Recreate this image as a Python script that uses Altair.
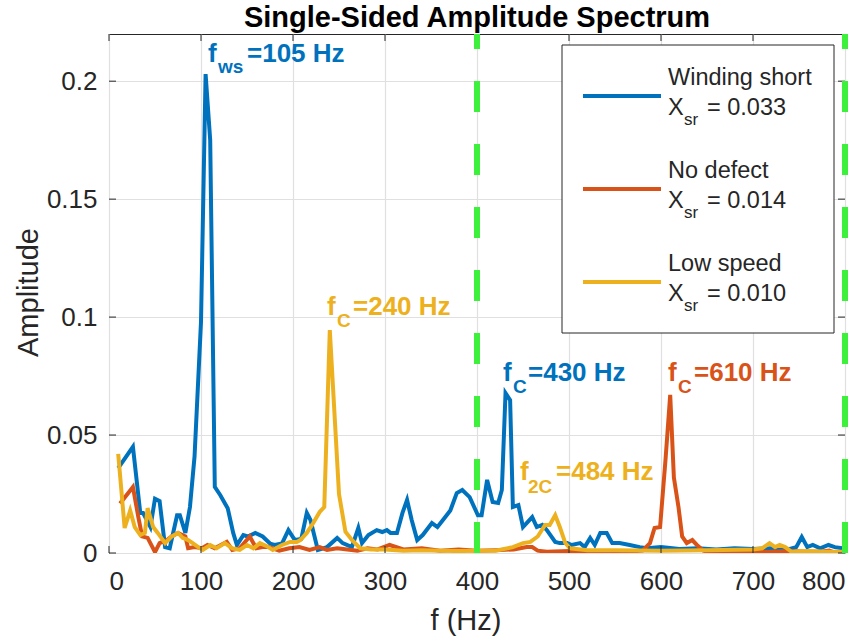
import altair as alt
import pandas as pd

# ---------------- data ----------------
ws_f = [10, 26, 34, 37, 45, 50, 55, 61, 66, 74, 77, 83, 88, 93, 100, 105, 110, 115, 121, 129,
        135, 139, 146, 151, 159, 167, 175, 180, 188, 195, 202, 209, 215, 219, 227, 237, 248, 254,
        264, 271, 275, 282, 291, 297, 302, 306, 313, 319, 324, 329, 335, 341, 351, 357, 363, 371,
        378, 384, 392, 401, 405, 411, 417, 423, 427, 431, 436, 439, 445, 450, 460, 465, 471, 476,
        485, 490, 498, 503, 512, 517, 523, 528, 534, 541, 547, 555, 566, 577, 585, 600, 620, 640,
        660, 680, 700, 720, 740, 747, 753, 759, 765, 773, 782, 789, 797]
ws_a = [0.036, 0.045, 0.017, 0.017, 0.011, 0.023, 0.022, 0.0025, 0.002, 0.016, 0.016, 0.0085,
        0.0195, 0.041, 0.098, 0.203, 0.175, 0.028, 0.0245, 0.019, 0.0085, 0.0034, 0.0076, 0.007,
        0.0085, 0.007, 0.004, 0.0034, 0.004, 0.0097, 0.0055, 0.006, 0.017, 0.014, 0.0013, 0.0025,
        0.0064, 0.0042, 0.0025, 0.0106, 0.0042, 0.0076, 0.0097, 0.0089, 0.0097, 0.0085, 0.0085,
        0.017, 0.0225, 0.014, 0.0055, 0.0076, 0.0127, 0.011, 0.014, 0.018, 0.0254, 0.0267, 0.0237,
        0.016, 0.016, 0.031, 0.0216, 0.0212, 0.0267, 0.0678, 0.0648, 0.0195, 0.0203, 0.011, 0.0152,
        0.011, 0.0119, 0.0097, 0.0047, 0.0042, 0.0042, 0.0034, 0.0042, 0.0025, 0.0064, 0.0034,
        0.0085, 0.0085, 0.0042, 0.0042, 0.0034, 0.0025, 0.002, 0.0025, 0.0017, 0.002, 0.0015,
        0.002, 0.0017, 0.002, 0.0017, 0.0025, 0.0068, 0.0025, 0.0034, 0.002, 0.0034, 0.0025, 0.002]

nd_f = [12, 26, 32, 36, 42, 50, 55, 63, 68, 75, 83, 86, 93, 101, 107, 115, 128, 134, 142, 153,
        160, 167, 174, 185, 196, 207, 218, 229, 237, 248, 259, 270, 281, 292, 305, 320, 340, 360,
        380, 400, 420, 440, 454, 460, 466, 476, 500, 530, 560, 580, 588, 593, 599, 605, 610, 614,
        619, 623, 628, 634, 639, 646, 653, 670, 700, 720, 740, 760, 773, 783, 788, 800]
nd_a = [0.021, 0.028, 0.015, 0.007, 0.0064, 0.0004, 0.0042, 0.0055, 0.007, 0.0085, 0.007, 0.002,
        0.0025, 0.002, 0.0034, 0.002, 0.0047, 0.0013, 0.002, 0.007, 0.002, 0.0025, 0.0025, 0.001,
        0.002, 0.0025, 0.0013, 0.0025, 0.0013, 0.002, 0.0015, 0.001, 0.002, 0.0015, 0.0034, 0.0015,
        0.002, 0.001, 0.0015, 0.001, 0.0012, 0.0015, 0.0025, 0.0025, 0.001, 0.0005, 0.0008, 0.0005,
        0.0005, 0.001, 0.0042, 0.0106, 0.011, 0.04, 0.067, 0.032, 0.0195, 0.007, 0.0042, 0.0055,
        0.0034, 0.001, 0.0003, 0.0005, 0.0003, 0.0005, 0.0008, 0.0005, 0.0005, 0.001, 0.0003, 0.0005]

ls_f = [10, 17, 23, 28, 34, 39, 42, 48, 53, 61, 68, 75, 80, 86, 91, 97, 102, 110, 117, 126, 134,
        142, 150, 157, 164, 171, 178, 188, 197, 204, 208, 215, 222, 229, 234, 240, 250, 257, 264,
        273, 285, 300, 320, 340, 360, 380, 400, 420, 439, 450, 458, 466, 474, 479, 485, 490, 496,
        501, 520, 550, 600, 650, 700, 710, 718, 724, 729, 735, 742, 760, 780, 800]
ls_a = [0.042, 0.0106, 0.018, 0.011, 0.0076, 0.0085, 0.019, 0.011, 0.0085, 0.0042, 0.007, 0.0085,
        0.0064, 0.0055, 0.0042, 0.0025, 0.0013, 0.0034, 0.002, 0.0042, 0.002, 0.0013, 0.0034, 0.002,
        0.0042, 0.003, 0.0013, 0.0034, 0.0047, 0.0047, 0.0055, 0.0085, 0.0127, 0.0174, 0.0195,
        0.0945, 0.025, 0.009, 0.0055, 0.002, 0.0015, 0.0015, 0.001, 0.0012, 0.001, 0.0008, 0.001,
        0.001, 0.0025, 0.0042, 0.0047, 0.007, 0.0119, 0.0119, 0.016, 0.011, 0.0042, 0.002, 0.0012,
        0.0012, 0.001, 0.0012, 0.0015, 0.002, 0.0042, 0.0025, 0.0034, 0.0025, 0.0005, 0.0008,
        0.0005, 0.0005]

series_names = ["Winding short", "No defect", "Low speed"]
xsr_values = ["0.033", "0.014", "0.010"]
colors = ["#0072BD", "#D95319", "#EDB120"]
x_ticks = [0, 100, 200, 300, 400, 500, 600, 700, 800]
y_ticks = [0, 0.05, 0.1, 0.15, 0.2]
marker_freqs = [400, 800]

# annotation texts: (main, subscript, rest, color index)
annotations = [("f", "ws", "=105 Hz", 0), ("f", "C", "=240 Hz", 2), ("f", "C", "=430 Hz", 0),
               ("f", "C", "=610 Hz", 1), ("f", "2C", "=484 Hz", 2)]

# ---------------- layout ----------------
FONT = "Liberation Sans"
W, H = 736, 519
TXT = "#262626"
xs = alt.Scale(domain=[0, 800], nice=False, zero=False)
ys = alt.Scale(domain=[0, 0.22], nice=False)

XAX = alt.Axis(values=x_ticks, title=None, grid=True, ticks=False, domain=False,
               labelFontSize=26, labelFont=FONT, labelColor=TXT, labelPadding=15,
               gridColor="#e0e0e0", gridWidth=1.2)
YAX = alt.Axis(values=y_ticks, title=None, grid=True, ticks=False, domain=False,
               labelFontSize=26, labelFont=FONT, labelColor=TXT, labelPadding=12,
               gridColor="#e0e0e0", gridWidth=1.2,
               labelExpr="format(datum.value, '~g')")


def X(field):
    return alt.X(field, scale=xs, axis=XAX)


def Y(field):
    return alt.Y(field, scale=ys, axis=YAX)


layers = []

series = [(ws_f, ws_a), (nd_f, nd_a), (ls_f, ls_a)]
for i, (f, a) in enumerate(series):
    df = pd.DataFrame({"f": f, "a": a})
    layers.append(
        alt.Chart(df).mark_line(color=colors[i], strokeWidth=4, clip=True).encode(
            x=X("f:Q"), y=Y("a:Q"), order=alt.Order("f:Q"),
        )
    )

# inward ticks (MATLAB style)
xt = pd.DataFrame({"t": x_ticks})
yt = pd.DataFrame({"t": y_ticks})
tick_style = dict(color=TXT, strokeWidth=1)
layers.append(alt.Chart(xt).mark_rule(**tick_style).encode(
    x=X("t:Q"), y=alt.value(H), y2=alt.value(H - 7)))
layers.append(alt.Chart(xt).mark_rule(**tick_style).encode(
    x=X("t:Q"), y=alt.value(0), y2=alt.value(7)))
layers.append(alt.Chart(yt).mark_rule(**tick_style).encode(
    y=Y("t:Q"), x=alt.value(0), x2=alt.value(7)))
layers.append(alt.Chart(yt).mark_rule(**tick_style).encode(
    y=Y("t:Q"), x=alt.value(W), x2=alt.value(W - 7)))

# green dashed marker lines
layers.append(alt.Chart(pd.DataFrame({"v": marker_freqs})).mark_rule(
    color="#3cf03c", strokeWidth=6, strokeDash=[31, 32]).encode(
    x=X("v:Q"), y=alt.value(H), y2=alt.value(0)))


def txt(s, x, y, size, color="#000000", weight="normal", align="left",
        baseline="alphabetic", angle=0):
    return alt.Chart(pd.DataFrame({"t": [s]})).mark_text(
        align=align, baseline=baseline, fontSize=size, font=FONT, fontWeight=weight,
        color=color, angle=angle).encode(x=alt.value(x), y=alt.value(y), text="t:N")


# annotations (main x, main baseline, sub x, sub baseline, rest x)
ann_pos = [(99, 28, 109, 39, 138), (218, 281, 228, 293, 244), (394, 347, 404, 359, 419),
           (559, 347, 569, 359, 585), (411, 446, 419, 459, 447)]
for (m, sub, rest, ci), (mx, my, sx, sy, rx) in zip(annotations, ann_pos):
    c = colors[ci]
    layers.append(txt(m, mx, my, 26, c, "bold"))
    layers.append(txt(sub, sx, sy, 19, c, "bold"))
    layers.append(txt(rest, rx, my, 26, c, "bold"))

# legend
layers.append(alt.Chart(pd.DataFrame({"k": [0]})).mark_rect(
    fill="white", stroke=TXT, strokeWidth=1).encode(
    x=alt.value(453), x2=alt.value(725), y=alt.value(11), y2=alt.value(299)))
for i, name in enumerate(series_names):
    dy = 93 * i
    layers.append(alt.Chart(pd.DataFrame({"k": [0]})).mark_rule(
        color=colors[i], strokeWidth=4).encode(
        x=alt.value(474), x2=alt.value(552), y=alt.value(62 + dy)))
    layers.append(txt(name, 559, 51 + dy, 23.5, TXT))
    layers.append(txt("X", 559, 81 + dy, 23.5, TXT))
    layers.append(txt("sr", 575, 91 + dy, 17, TXT))
    layers.append(txt("= " + xsr_values[i], 598, 81 + dy, 23.5, TXT))

# titles
layers.append(txt("Single-Sided Amplitude Spectrum", W / 2, -16, 29, "#000000", "bold",
                  align="center", baseline="middle"))
layers.append(txt("f (Hz)", W / 2 - 11, 587, 29, TXT, align="center", baseline="middle"))
layers.append(txt("Amplitude", -80, H / 2 - 1, 29, TXT, align="center", baseline="middle",
                  angle=270))

chart = alt.layer(*layers).properties(
    width=W, height=H,
    padding={"left": 109, "top": 34, "right": 21, "bottom": 86},
    autosize=alt.AutoSizeParams(type="none"),
).configure_view(stroke=TXT, strokeWidth=1)

chart.save("out.html", embed_options={"renderer": "svg", "actions": False})
